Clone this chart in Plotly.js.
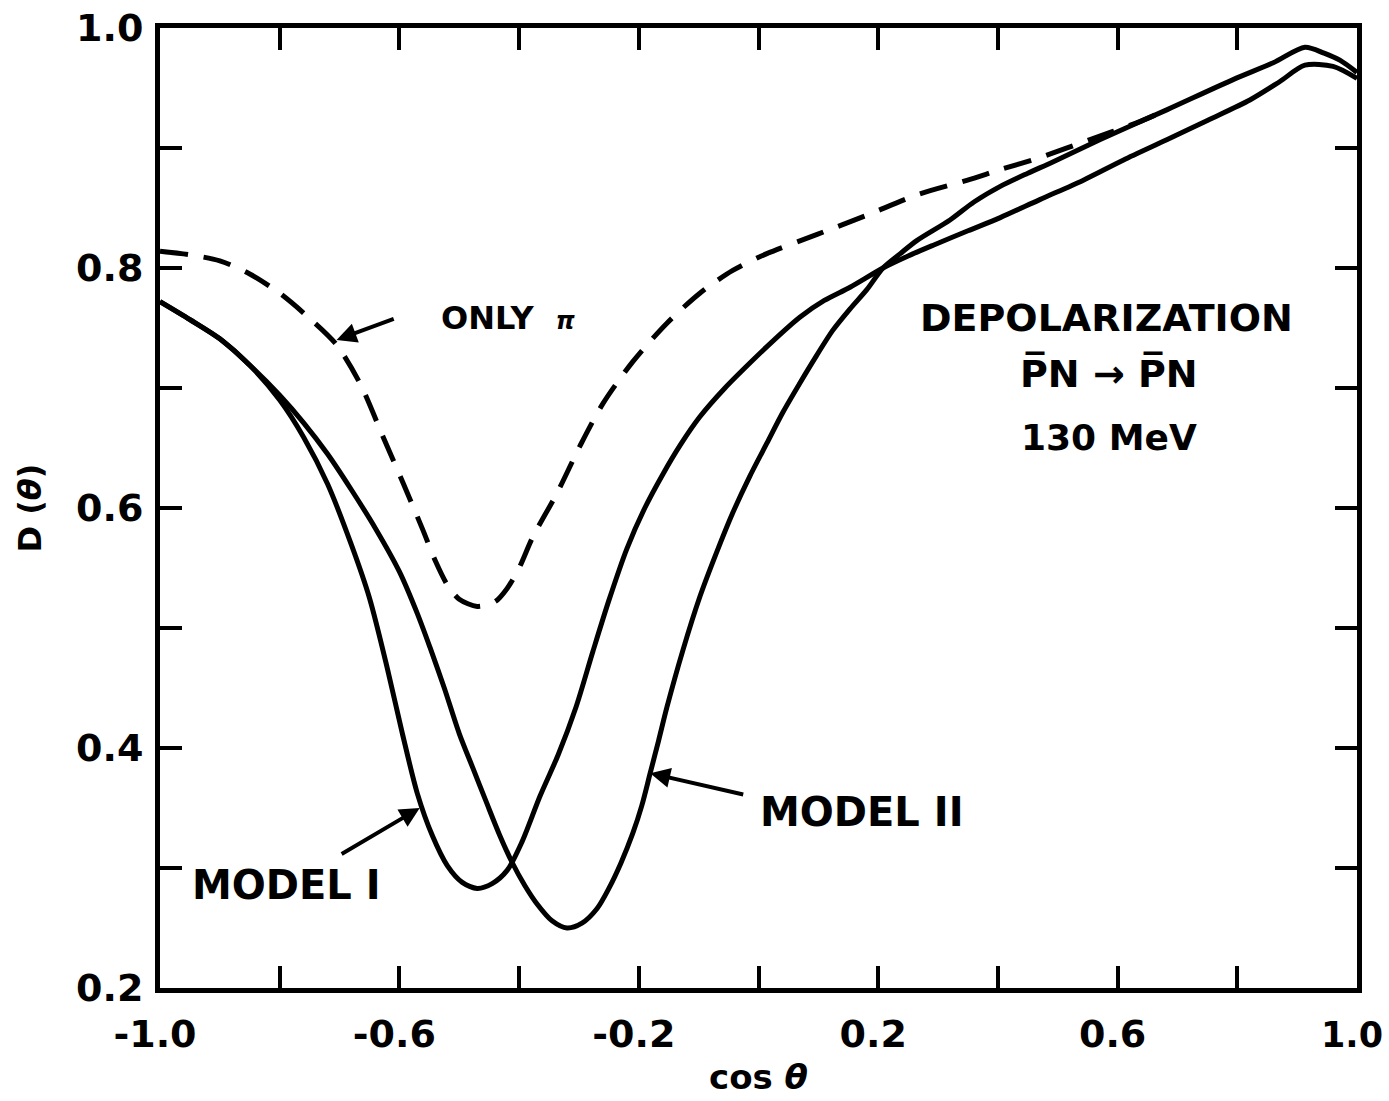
<!DOCTYPE html>
<html>
<head>
<meta charset="utf-8">
<script src="https://cdn.plot.ly/plotly-3.0.1.min.js"></script>
<style>html,body{margin:0;padding:0;background:#fff;}#chart{width:1389px;height:1101px;}</style>
</head>
<body>
<div id="chart"></div>
<script>
// ---- data ----
const modelIx = [-1.0,-0.95,-0.9,-0.85,-0.8,-0.76,-0.72,-0.68,-0.65,-0.62,-0.595,-0.57,-0.545,-0.52,-0.495,-0.47,-0.445,-0.42,-0.395,-0.365,-0.335,-0.305,-0.277,-0.25,-0.22,-0.19,-0.16,-0.13,-0.098,-0.056,-0.014,0.028,0.069,0.11,0.153,0.208,0.25,0.292,0.35,0.404,0.47,0.542,0.61,0.683,0.75,0.821,0.87,0.913,0.96,1.0];
const modelIy = [0.772,0.757,0.741,0.719,0.690,0.659,0.620,0.569,0.525,0.466,0.412,0.362,0.327,0.302,0.288,0.283,0.287,0.298,0.322,0.360,0.394,0.434,0.480,0.523,0.566,0.600,0.628,0.653,0.676,0.700,0.721,0.741,0.759,0.773,0.784,0.800,0.810,0.819,0.831,0.842,0.857,0.873,0.890,0.907,0.923,0.940,0.955,0.969,0.968,0.958];

const modelIIx = [-1.0,-0.95,-0.9,-0.85,-0.8,-0.76,-0.72,-0.68,-0.64,-0.6,-0.57,-0.549,-0.525,-0.5,-0.477,-0.454,-0.433,-0.412,-0.39,-0.37,-0.345,-0.32,-0.295,-0.27,-0.25,-0.23,-0.21,-0.195,-0.181,-0.167,-0.153,-0.126,-0.098,-0.07,-0.043,-0.015,0.014,0.041,0.069,0.097,0.124,0.153,0.181,0.208,0.237,0.265,0.32,0.36,0.404,0.45,0.49,0.571,0.683,0.793,0.86,0.913,0.945,0.972,1.0];
const modelIIy = [0.772,0.757,0.741,0.719,0.694,0.671,0.645,0.615,0.583,0.547,0.512,0.484,0.450,0.412,0.383,0.354,0.328,0.305,0.285,0.270,0.256,0.250,0.254,0.266,0.283,0.304,0.329,0.352,0.379,0.406,0.434,0.482,0.526,0.563,0.596,0.626,0.654,0.680,0.704,0.727,0.748,0.766,0.782,0.800,0.812,0.823,0.840,0.855,0.868,0.879,0.888,0.907,0.932,0.957,0.971,0.984,0.979,0.973,0.963];

const onlyPiX = [-1.0,-0.95,-0.9,-0.85,-0.8,-0.75,-0.705,-0.666,-0.627,-0.594,-0.561,-0.54,-0.52,-0.5,-0.47,-0.44,-0.42,-0.4,-0.377,-0.337,-0.298,-0.26,-0.21,-0.153,-0.098,-0.043,0.014,0.098,0.181,0.265,0.348,0.404,0.47,0.554,0.637,0.665];
const onlyPiY = [0.814,0.811,0.806,0.795,0.779,0.758,0.736,0.704,0.659,0.621,0.582,0.556,0.536,0.524,0.518,0.522,0.533,0.550,0.576,0.612,0.652,0.687,0.722,0.754,0.779,0.798,0.812,0.828,0.844,0.861,0.873,0.882,0.892,0.907,0.922,0.928];

const xTickVals = [-1.0,-0.8,-0.6,-0.4,-0.2,0.0,0.2,0.4,0.6,0.8,1.0];
const xTickText = ['-1.0','','-0.6','','-0.2','','0.2','','0.6','','<span style="font-size:35px">1.0</span>'];
const yTickVals = [0.2,0.3,0.4,0.5,0.6,0.7,0.8,0.9,1.0];
const yTickText = ['0.2','','0.4','','0.6','','0.8','','1.0'];

// ---- drawing ----
const FONT = 'DejaVu Sans, Liberation Sans, sans-serif';
const ink = '#000';

const traces = [
  {x: modelIx, y: modelIy, mode: 'lines', name: 'MODEL I',
   line: {color: ink, width: 5, shape: 'spline', smoothing: 0.8}},
  {x: modelIIx, y: modelIIy, mode: 'lines', name: 'MODEL II',
   line: {color: ink, width: 5, shape: 'spline', smoothing: 0.8}},
  {x: onlyPiX, y: onlyPiY, mode: 'lines', name: 'ONLY π',
   line: {color: ink, width: 5, dash: '28px,16px', shape: 'spline', smoothing: 0.8}}
];

const axisCommon = {
  showgrid: false, zeroline: false, showline: true, linecolor: ink, linewidth: 5,
  mirror: 'ticks', ticks: 'inside', ticklen: 22, tickwidth: 4, tickcolor: ink,
  tickmode: 'array', ticklabeloverflow: 'allow',
  tickfont: {family: FONT, size: 38, color: ink, weight: 'bold'}
};

function arrow(x, y, ax, ay) {
  return {x: x, y: y, ax: ax, ay: ay, xref: 'x', yref: 'y', axref: 'x', ayref: 'y',
    text: '', showarrow: true, arrowhead: 2, arrowsize: 1, arrowwidth: 4, arrowcolor: ink};
}
function label(x, y, text, size) {
  return {x: x, y: y, xref: 'x', yref: 'y', text: text, showarrow: false,
    font: {family: FONT, size: size, color: ink, weight: 'bold'}};
}

const layout = {
  width: 1389, height: 1101,
  margin: {l: 160, r: 32, t: 28, b: 113, pad: 0},
  paper_bgcolor: '#fff', plot_bgcolor: '#fff',
  showlegend: false,
  xaxis: Object.assign({}, axisCommon, {
    range: [-1, 1], tickvals: xTickVals, ticktext: xTickText, ticklabelstandoff: 8, ticklabelshift: -5,
    title: {text: 'cos <i>θ</i>', standoff: 12, font: {family: FONT, size: 34, color: ink, weight: 'bold'}}
  }),
  yaxis: Object.assign({}, axisCommon, {
    range: [0.2, 1.0], tickvals: yTickVals, ticktext: yTickText, ticklabelstandoff: 4,
    title: {text: 'D (<i>θ</i>)', standoff: 26, font: {family: FONT, size: 32, color: ink, weight: 'bold'}}
  }),
  annotations: [
    label(-0.418, 0.758, 'ONLY  <i><span style="font-size:24px">π</span></i>', 32),
    arrow(-0.705, 0.74, -0.607, 0.758),
    label(-0.789, 0.286, 'MODEL I', 40),
    arrow(-0.566, 0.35, -0.699, 0.311),
    label(0.173, 0.347, 'MODEL II', 40),
    arrow(-0.181, 0.379, -0.023, 0.361),
    label(0.582, 0.758, 'DEPOLARIZATION', 38),
    label(0.585, 0.7125, 'P\u0305N \u2192 P\u0305N', 38),
    label(0.585, 0.659, '130 MeV', 36)
  ]
};

Plotly.newPlot('chart', traces, layout, {staticPlot: true, displayModeBar: false});
</script>
</body>
</html>
